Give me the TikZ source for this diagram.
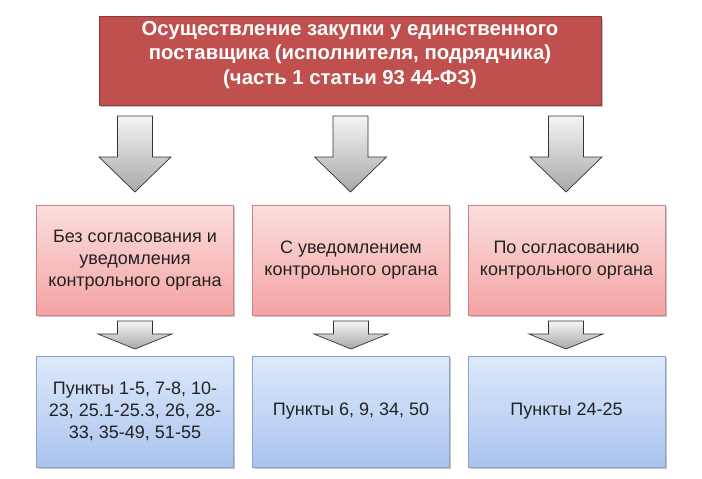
\documentclass[tikz,border=0pt]{standalone}
\usepackage{fontspec}
\setmainfont{Liberation Sans}
\usetikzlibrary{shadows}
\definecolor{titlered}{HTML}{C0504D}
\definecolor{titleedge}{HTML}{8C3A38}
\definecolor{pinktop}{HTML}{FBDEDE}
\definecolor{pinkbot}{HTML}{F4A3A3}
\definecolor{pinkedge}{HTML}{C98585}
\definecolor{bluetop}{HTML}{DEE9FB}
\definecolor{bluebot}{HTML}{A9C3EE}
\definecolor{blueedge}{HTML}{8CA3C8}
\definecolor{arrowtop}{HTML}{F4F4F4}
\definecolor{arrowbot}{HTML}{A8A8A8}
\definecolor{textdark}{HTML}{222222}
\tikzset{
  myshadow/.style={drop shadow={opacity=0.22, shadow xshift=1.5pt, shadow yshift=-1.5pt, fill=black}},
  titlebox/.style={draw=titleedge, line width=0.8pt, fill=titlered, myshadow,
    minimum width=502pt, minimum height=89pt, inner sep=0pt},
  titletext/.style={inner sep=0pt, align=center,
    text=white, font=\fontsize{20.3}{24.5}\selectfont\bfseries},
  pinkbox/.style={draw=pinkedge, line width=0.6pt, top color=pinktop, bottom color=pinkbot, myshadow,
    minimum width=197pt, minimum height=110pt, inner sep=0pt, align=center,
    text=textdark, font=\fontsize{18}{22}\selectfont},
  bluebox/.style={draw=blueedge, line width=0.6pt, top color=bluetop, bottom color=bluebot, myshadow,
    minimum width=197pt, minimum height=111pt, inner sep=0pt, align=center,
    text=textdark, font=\fontsize{18}{22}\selectfont},
  grayarrow/.style={draw=black!80, line width=0.7pt, top color=arrowtop, bottom color=arrowbot, line join=miter}
}
% #1 centre x, #2 top y, #3 shoulder y, #4 tip y, #5 half shaft, #6 half head
\newcommand{\blockarrow}[6]{%
  \path[grayarrow] (#1-#5,#2) -- (#1+#5,#2) -- (#1+#5,#3) -- (#1+#6,#3) -- (#1,#4)
    -- (#1-#6,#3) -- (#1-#5,#3) -- cycle;}
\begin{document}
\begin{tikzpicture}[x=1pt,y=-1pt]
\useasboundingbox (0,0) rectangle (702,479);
\fill[white] (0,0) rectangle (702,479);

\node[titlebox] (top) at (350,60.5) {};
\node[titletext] (toptext) at (350,55) {Осуществление закупки у единственного\\поставщика (исполнителя, подрядчика)\\(часть 1 статьи 93 44-ФЗ)};

\node[pinkbox] (p1) at (135,260) {Без согласования и\\уведомления\\контрольного органа};
\node[pinkbox] (p2) at (351,260) {С уведомлением\\контрольного органа};
\node[pinkbox] (p3) at (566.5,260) {По согласованию\\контрольного органа};

\node[bluebox] (b1) at (135,411.5) {Пункты 1-5, 7-8, 10-\\23, 25.1-25.3, 26, 28-\\33, 35-49, 51-55};
\node[bluebox] (b2) at (351,411.5) {Пункты 6, 9, 34, 50};
\node[bluebox] (b3) at (566.5,411.5) {Пункты 24-25};

\blockarrow{135}{116}{157}{192}{17.5}{36}
\blockarrow{350.5}{116}{157}{192}{17.5}{36}
\blockarrow{566}{116}{157}{192}{17.5}{36}

\blockarrow{135}{321}{334}{349}{17.5}{37}
\blockarrow{351}{321}{334}{349}{17.5}{37}
\blockarrow{566}{321}{334}{349}{17.5}{37}
\end{tikzpicture}
\end{document}
